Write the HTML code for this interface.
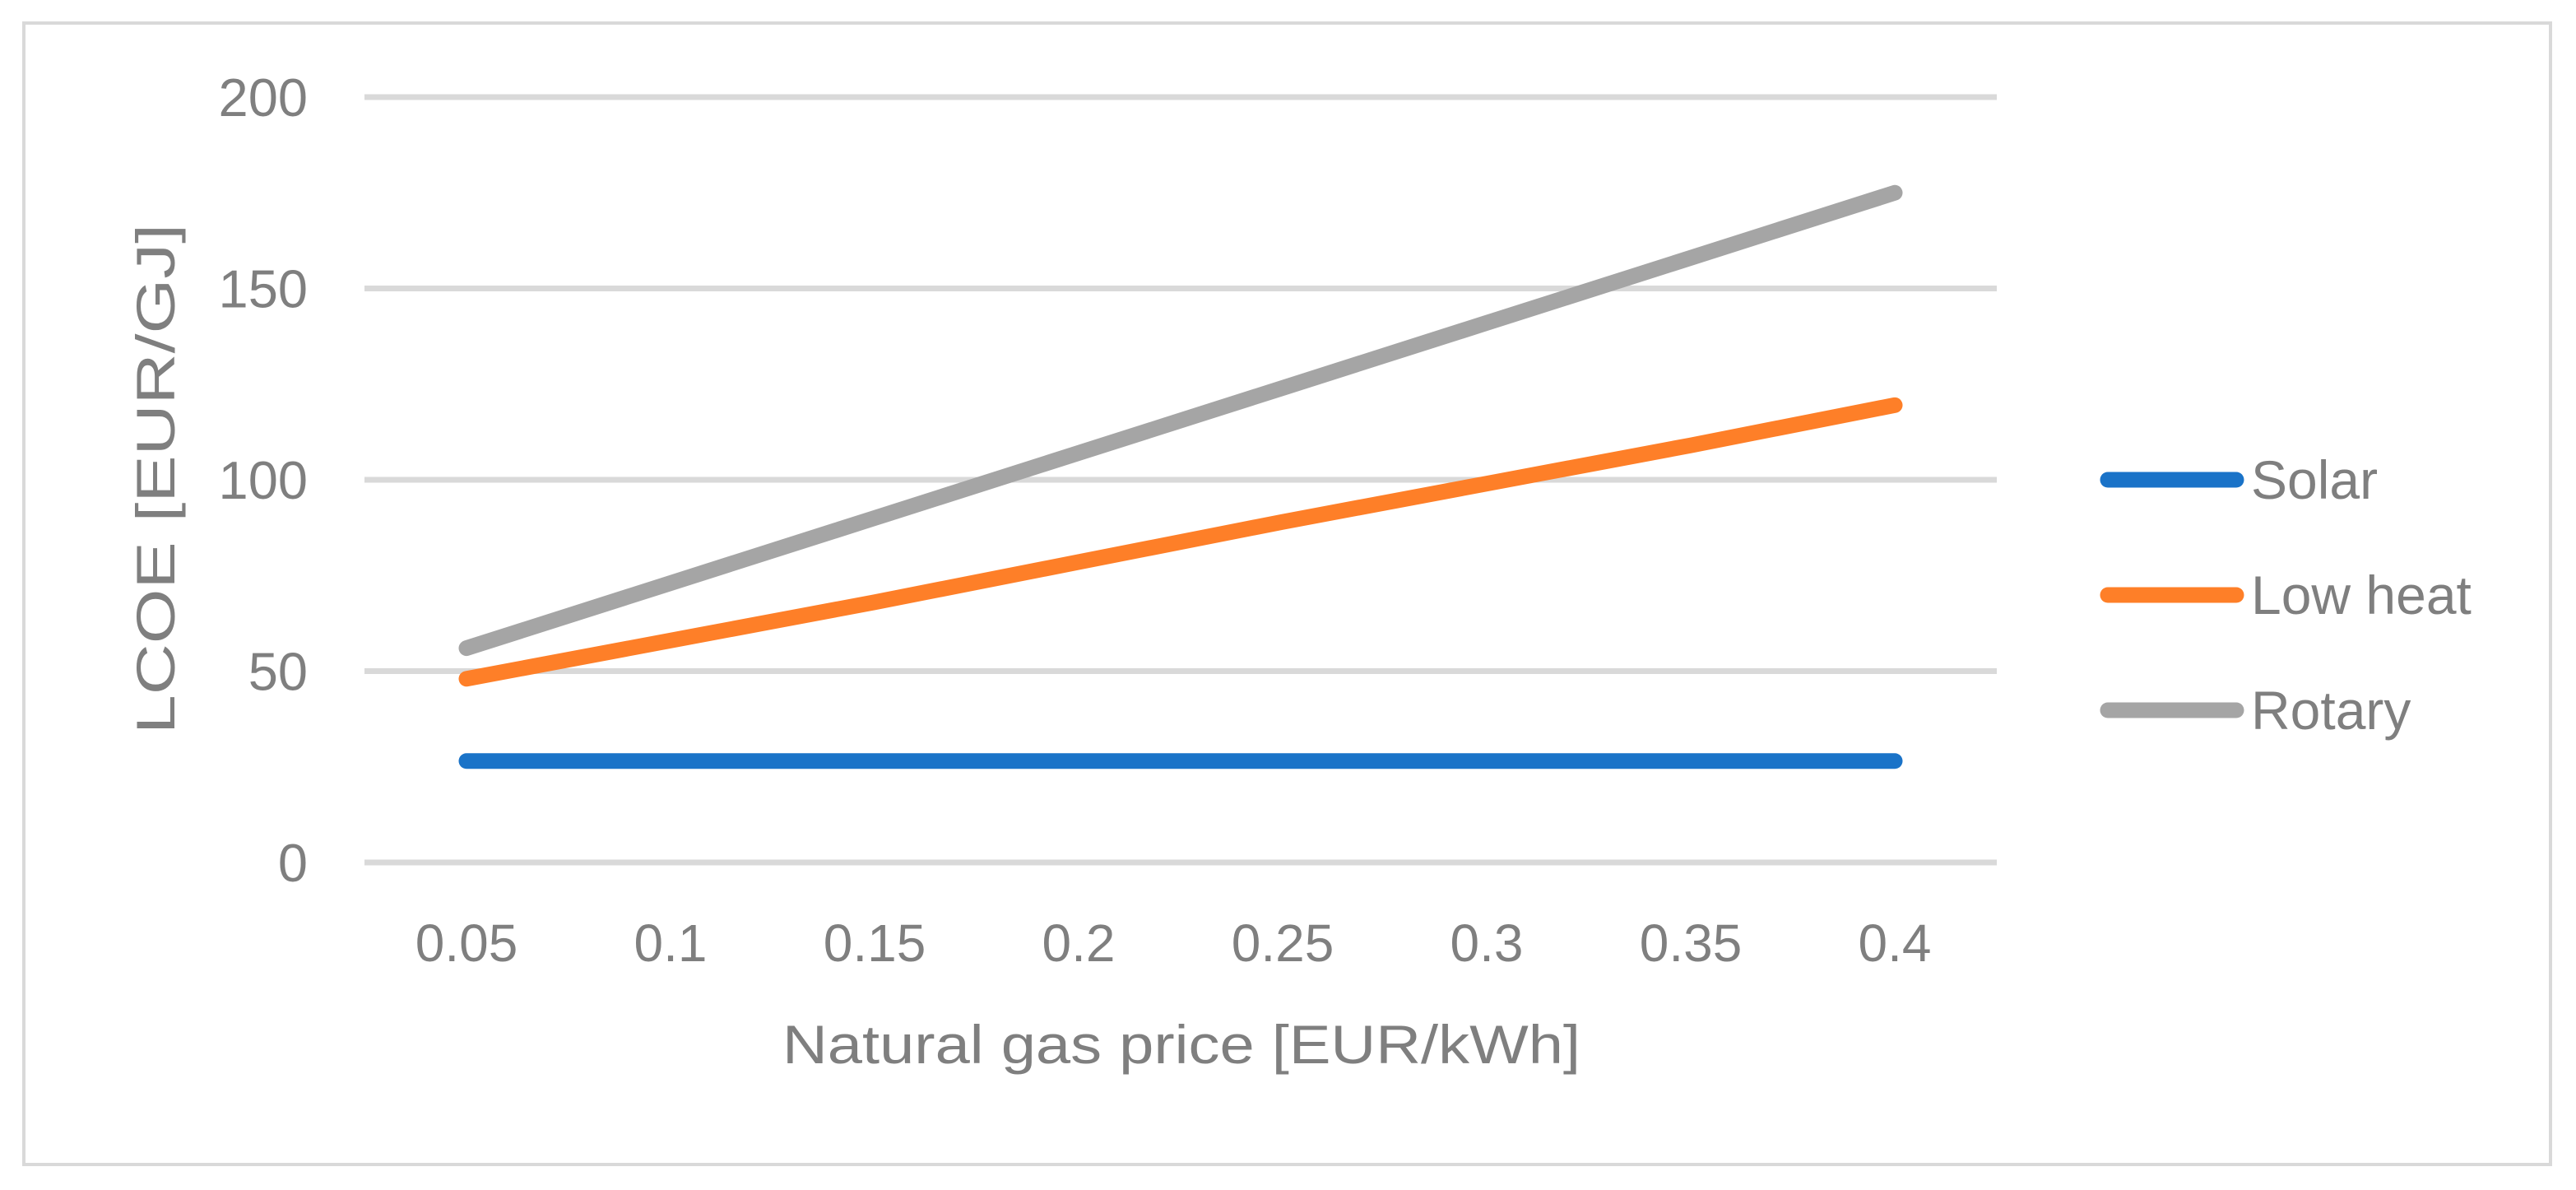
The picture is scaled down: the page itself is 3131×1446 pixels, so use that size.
<!DOCTYPE html>
<html><head><meta charset="utf-8"><style>
html,body{margin:0;padding:0;background:#fff;}
svg{display:block;font-family:"Liberation Sans",sans-serif;}
</style></head><body>
<svg id="chart" width="3131" height="1446" viewBox="0 0 3131 1446">
<rect x="29" y="28" width="3071" height="1387" fill="#fff" stroke="#d9d9d9" stroke-width="4"/>
<g id="grid"></g><g id="yticks"></g><g id="xticks"></g><g id="series"></g><g id="legend"></g>
<text x="1436" y="1292" text-anchor="middle" font-size="66" fill="#7f7f7f" textLength="970" lengthAdjust="spacingAndGlyphs">Natural gas price [EUR/kWh]</text>
<text transform="translate(212,582) rotate(-90)" text-anchor="middle" font-size="66" fill="#7f7f7f" textLength="620" lengthAdjust="spacingAndGlyphs">LCOE [EUR/GJ]</text>
</svg>
<script>
const categories = ["0.05","0.1","0.15","0.2","0.25","0.3","0.35","0.4"];
const yTicks = [0,50,100,150,200];
const seriesNames = ["Solar","Low heat","Rotary"];
const solar = [26.5,26.5,26.5,26.5,26.5,26.5,26.5,26.5];
const lowHeat = [48,58,68,78.5,89,99,109,119.5];
const rotary = [56,73,90,107,124,141,158,175];
const NS="http://www.w3.org/2000/svg";
const colors=["#1a73c8","#fe7f28","#a5a5a5"];
const x0=443,x1=2427,y0=1048,y1=118;
function xs(i){return x0+(i+0.5)*(x1-x0)/categories.length;}
function ys(v){return y0-(v/200)*(y0-y1);}
function mk(tag,attrs,parent){const e=document.createElementNS(NS,tag);for(const k in attrs)e.setAttribute(k,attrs[k]);parent.appendChild(e);return e;}
const grid=document.getElementById('grid'),yt=document.getElementById('yticks'),xt=document.getElementById('xticks'),ser=document.getElementById('series'),leg=document.getElementById('legend');
yTicks.forEach(v=>{
  const l=mk('line',{x1:x0,x2:x1,y1:ys(v),y2:ys(v),stroke:'#d9d9d9','stroke-width':7},grid);
  
  
  const t=mk('text',{x:374,y:ys(v)+23,'text-anchor':'end','font-size':65,fill:'#7f7f7f'},yt);
  t.textContent=v;
  
  
});
categories.forEach((c,i)=>{
  const t=mk('text',{x:xs(i),y:1168,'text-anchor':'middle','font-size':64,fill:'#7f7f7f'},xt);
  t.textContent=c;
  
  
});
[solar,lowHeat,rotary].forEach((arr,s)=>{
  const p=mk('polyline',{points:arr.map((v,i)=>xs(i)+','+ys(v)).join(' '),fill:'none',stroke:colors[s],'stroke-width':19,'stroke-linecap':'round','stroke-linejoin':'round'},ser);
  
  
  const ly=583+s*140;
  const l=mk('line',{x1:2562,x2:2718,y1:ly,y2:ly,stroke:colors[s],'stroke-width':19,'stroke-linecap':'round'},leg);
  
  
  const t=mk('text',{x:2736,y:ly+23,'font-size':66,fill:'#7f7f7f'},leg);
  t.textContent=seriesNames[s];
  
  
});
</script>
</body></html>
